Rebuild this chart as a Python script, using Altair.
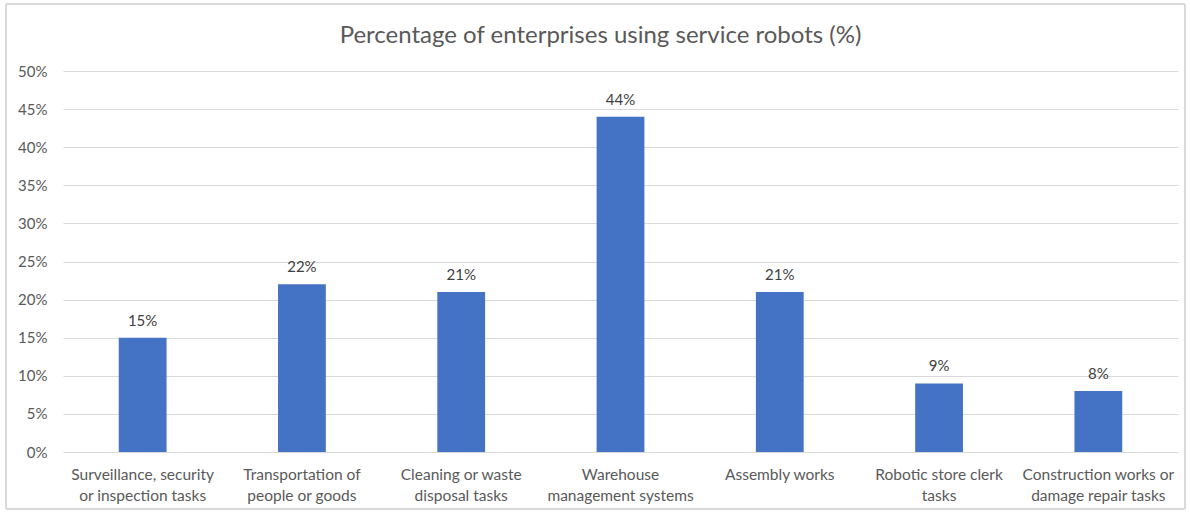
import altair as alt
import pandas as pd

categories = [
    ["Surveillance, security", "or inspection tasks"],
    ["Transportation of", "people or goods"],
    ["Cleaning or waste", "disposal tasks"],
    ["Warehouse", "management systems"],
    ["Assembly works"],
    ["Robotic store clerk", "tasks"],
    ["Construction works or", "damage repair tasks"],
]
values = [15, 22, 21, 44, 21, 9, 8]
y_ticks = [0, 5, 10, 15, 20, 25, 30, 35, 40, 45, 50]

keys = [" ".join(c) for c in categories]
df = pd.DataFrame({"cat": keys, "val": values, "lab": [f"{v}%" for v in values]})

label_map = {" ".join(c): c for c in categories}
label_expr = "{" + ",".join(
    f'"{k}": [' + ",".join(f'"{p}"' for p in v) + "]" for k, v in label_map.items()
) + "}[datum.value]"

FONT = "Lato"
TXT = "#595959"
W, H = 1115, 381

x_enc = alt.X("cat:N", sort=keys, title=None,
              scale=alt.Scale(paddingInner=0.7, paddingOuter=0.35),
              axis=alt.Axis(labelAngle=0, ticks=False, domain=False, labelPadding=15,
                            labelExpr=label_expr, labelFontSize=15.5, labelColor=TXT,
                            labelFont=FONT, labelLineHeight=21, grid=False))
y_enc = alt.Y("val:Q", title=None,
              scale=alt.Scale(domain=[0, 50], nice=False),
              axis=alt.Axis(values=y_ticks, labelExpr="datum.value + '%'", ticks=False,
                            domain=False, labelPadding=16, labelFontSize=15, labelColor=TXT,
                            labelFont=FONT, gridColor="#D9D9D9", gridWidth=1,
                            labelOverlap=False))

base = alt.Chart(df).encode(x=x_enc, y=y_enc)

bars = base.mark_bar(color="#4472C4")
text = base.mark_text(dy=-17, fontSize=15, color="#404040", font=FONT).encode(text="lab:N")

border = alt.Chart(df).mark_rect(fill=None, stroke="#D9D9D9", strokeWidth=1, clip=False).encode(
    x=alt.value(-57), x2=alt.value(1122), y=alt.value(-67), y2=alt.value(H + 57)
)

chart = alt.layer(border, bars, text).properties(
    width=W, height=H,
    title=alt.TitleParams("Percentage of enterprises using service robots (%)",
                          fontSize=24, font=FONT, color=TXT, fontWeight="normal",
                          anchor="middle", offset=-44, dx=-20),
    autosize=alt.AutoSizeParams(type="none"),
    padding={"left": 63, "top": 71, "right": 12, "bottom": 61},
).configure(background="white").configure_view(strokeWidth=0)

chart.save("out.html", embed_options={"renderer": "svg", "actions": False})
